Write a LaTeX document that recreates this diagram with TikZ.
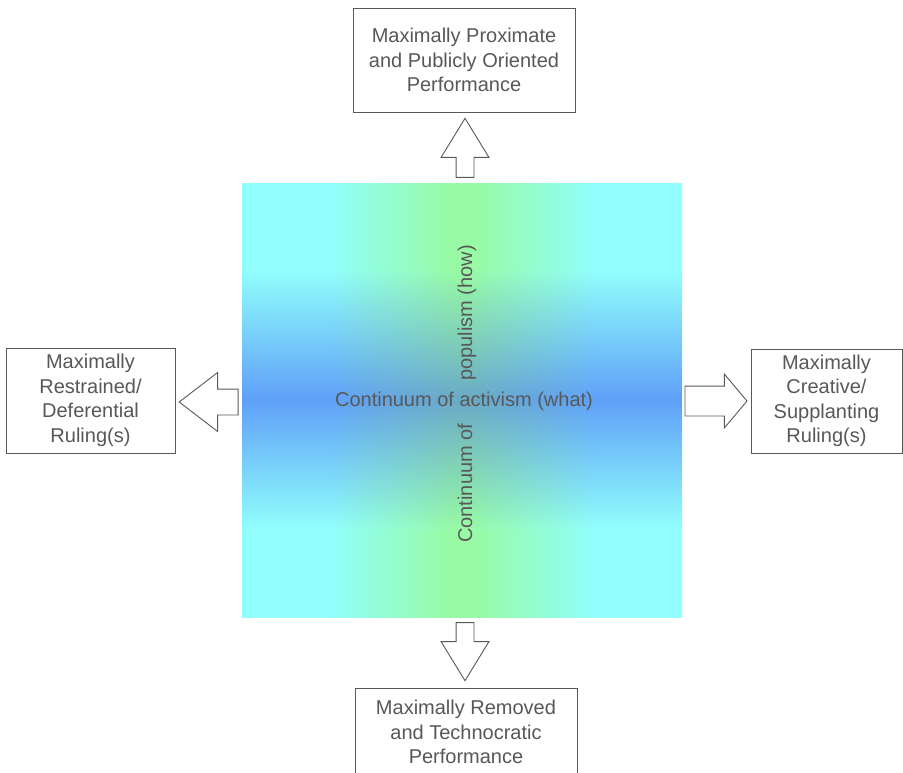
\documentclass[tikz,border=0pt]{standalone}
\usepackage{fontspec}
\setmainfont{Liberation Sans}
\usetikzlibrary{shapes.arrows,positioning}
\definecolor{fieldcyan}{RGB}{145,255,252}
\definecolor{fieldgreen}{RGB}{152,250,164}
\definecolor{fieldblue}{RGB}{95,160,248}
\definecolor{fieldmix}{RGB}{106,170,198}
\definecolor{inkgrey}{RGB}{88,88,88}
\pgfdeclarehorizontalshading{greenband}{100bp}{color(0bp)=(fieldcyan); color(35bp)=(fieldcyan); color(48.5bp)=(fieldgreen); color(51.5bp)=(fieldgreen); color(65bp)=(fieldcyan); color(100bp)=(fieldcyan)}
\tikzstyle{outcome} = [rectangle, draw=inkgrey, line width=0.9pt, fill=white, text=inkgrey, align=center, inner sep=0pt, font=\fontsize{20}{24.5}\selectfont]
\tikzstyle{blockarrow} = [single arrow, draw=inkgrey, line width=0.9pt, fill=white, inner xsep=0pt, minimum width=0pt, anchor=tip]
\tikzstyle{axislabel} = [text=inkgrey, inner sep=0pt, font=\fontsize{20}{24}\selectfont]

\begin{document}
\begin{tikzpicture}[x=1pt, y=-1pt]
    \useasboundingbox (0,0) rectangle (903,772);
    \clip (0,0) rectangle (903,772);

    % Field
    \node[rectangle, minimum width=440, minimum height=434, inner sep=0pt, shade, shading=greenband] (field) at (462,400) {};
    % blue band, row by row
    \foreach \k in {0,...,129}{
        \pgfmathsetmacro{\rowy}{270+2*\k}
        \pgfmathsetmacro{\w}{100*(1-abs(\rowy+1-400)/130)}
        \colorlet{rowedge}{fieldblue!\w!fieldcyan}
        \colorlet{rowmid}{fieldmix!\w!fieldgreen}
        \fill[rowedge] (242,\rowy) rectangle (331,\rowy+2.6);
        \fill[rowedge] (593,\rowy) rectangle (682,\rowy+2.6);
        \shade[left color=rowedge, right color=rowmid] (330,\rowy) rectangle (455.5,\rowy+2.6);
        \fill[rowmid] (455,\rowy) rectangle (469,\rowy+2.6);
        \shade[left color=rowmid, right color=rowedge] (468.5,\rowy) rectangle (594,\rowy+2.6);
    }

    % Labels
    \node[axislabel] (activism) at (464,401) {Continuum of activism (what)};
    \node[axislabel, rotate=90] (populism) at (467,394) {Continuum of\hspace{43pt}populism (how)};

    % Outcomes
    \node[outcome, minimum width=222, minimum height=104] (proximate) at (464,60) {Maximally Proximate\\and Publicly Oriented\\Performance};
    \node[outcome, minimum width=169, minimum height=105] (restrained) at (90.5,400.5) {Maximally\\Restrained/\\Deferential\\Ruling(s)};
    \node[outcome, minimum width=151, minimum height=104] (creative) at (826.5,401) {Maximally\\Creative/\\Supplanting\\Ruling(s)};
    \node[outcome, minimum width=222, minimum height=88] (removed) at (466,732) {Maximally Removed\\and Technocratic\\Performance};

    % Arrows
    \node[blockarrow, rotate=90, minimum height=59, inner ysep=8.5, single arrow head extend=15, single arrow tip angle=63] (uparrow) at ([xshift=1pt, yshift=-5pt]proximate.south) {};
    \node[blockarrow, rotate=-90, minimum height=58, inner ysep=8.5, single arrow head extend=15, single arrow tip angle=63] (downarrow) at ([xshift=-1pt, yshift=6pt]removed.north) {};
    \node[blockarrow, rotate=180, minimum height=59, inner ysep=12.5, single arrow head extend=16.5, single arrow tip angle=75] (leftarrow) at ([xshift=3pt, yshift=-1.5pt]restrained.east) {};
    \node[blockarrow, minimum height=62, inner ysep=14.5, single arrow head extend=12, single arrow tip angle=100] (rightarrow) at ([xshift=-3pt]creative.west) {};
\end{tikzpicture}
\end{document}
